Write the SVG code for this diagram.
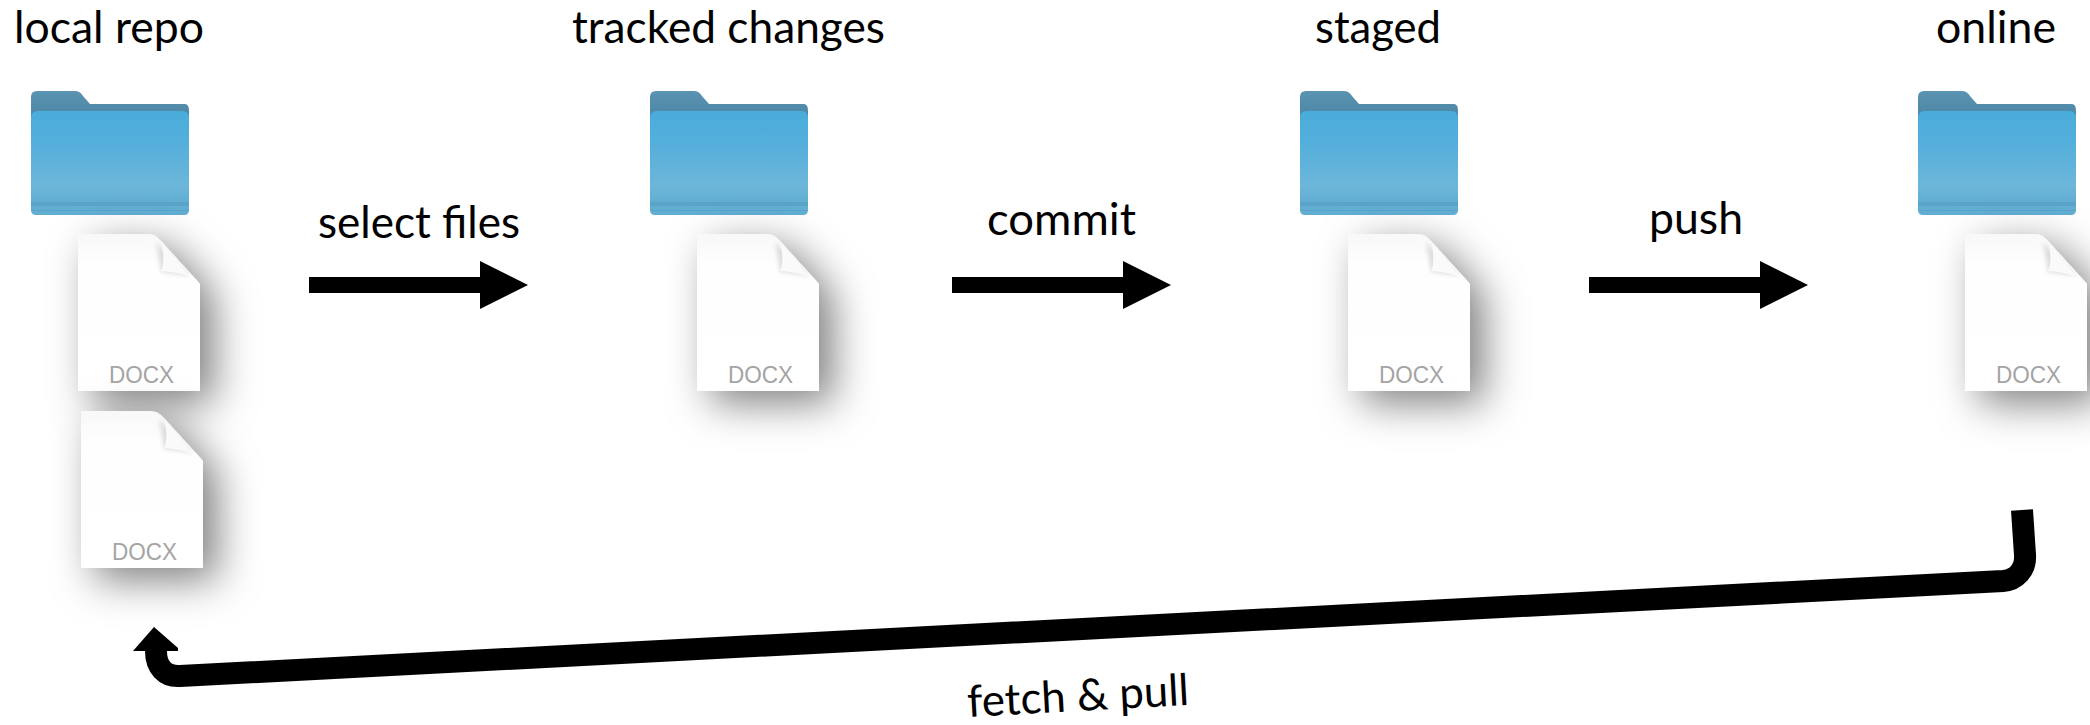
<svg xmlns="http://www.w3.org/2000/svg" xmlns:xlink="http://www.w3.org/1999/xlink" width="2090" height="725" viewBox="0 0 2090 725">
<style>
text{font-family:"Lato","Open Sans","Liberation Sans",sans-serif;font-size:44px;fill:#000}
.docx{font-family:"Liberation Sans",Arial,sans-serif;font-size:23px;fill:#a4a4a4}
.cn{fill:none;stroke:#000;stroke-width:22}
</style>
<defs>
<linearGradient id="fb" x1="0" y1="0" x2="0" y2="1"><stop offset="0" stop-color="#5b93b2"/><stop offset="1" stop-color="#457f9f"/></linearGradient>
<linearGradient id="ff" x1="0" y1="0" x2="0" y2="1"><stop offset="0" stop-color="#49acdb"/><stop offset=".35" stop-color="#56afdb"/><stop offset=".72" stop-color="#6db6da"/><stop offset=".87" stop-color="#62aed3"/><stop offset="1" stop-color="#62aed3"/></linearGradient>
<linearGradient id="dg" x1="0" y1="0" x2="0" y2="1"><stop offset="0" stop-color="#f8f8f8"/><stop offset=".2" stop-color="#fefefe"/><stop offset="1" stop-color="#fff"/></linearGradient>
<filter id="sh" x="-80%" y="-60%" width="280%" height="240%"><feDropShadow dx="14" dy="12" stdDeviation="20" flood-color="#000" flood-opacity=".5"/></filter>
<filter id="fs" x="-40%" y="-40%" width="180%" height="180%"><feGaussianBlur stdDeviation="2"/></filter>
<g id="folder">
<path d="M0 6Q0 0 6 0H44Q49 0 52 5L59 13H154Q158 13 158 20V40H0Z" fill="url(#fb)"/>
<path d="M0 27Q0 20 7 20H151Q158 20 158 27V119Q158 124 153 124H5Q0 124 0 119Z" fill="url(#ff)"/>
<path d="M0 111H158V115H0ZM0 119H158V120H0Z" fill="#5199bf" opacity=".5"/>
</g>
<g id="doc">
<path d="M0 0H70Q76 0 82 6L122 50V157H0Z" fill="url(#dg)" filter="url(#sh)"/>
<path d="M78 8Q82 30 83 38L112 42Z" fill="#ddd" filter="url(#fs)"/>
<path d="M84 9Q87 30 83 37Q100 38 112 43Z" fill="#fafafa"/>
<text class="docx" x="31" y="149" textLength="65" lengthAdjust="spacingAndGlyphs">DOCX</text>
</g>
</defs>
<rect width="2090" height="725" fill="#fff"/>
<g id="node-local-repo">
<text x="14" y="43" textLength="190" lengthAdjust="spacingAndGlyphs">local repo</text>
<use xlink:href="#folder" href="#folder" x="31" y="91"/>
<use xlink:href="#doc" href="#doc" x="78" y="234"/>
<use xlink:href="#doc" href="#doc" x="81" y="411"/>
</g>
<g id="node-tracked-changes">
<text x="572" y="43" textLength="313" lengthAdjust="spacingAndGlyphs">tracked changes</text>
<use xlink:href="#folder" href="#folder" x="650" y="91"/>
<use xlink:href="#doc" href="#doc" x="697" y="234"/>
</g>
<g id="node-staged">
<text x="1315" y="43" textLength="126" lengthAdjust="spacingAndGlyphs">staged</text>
<use xlink:href="#folder" href="#folder" x="1300" y="91"/>
<use xlink:href="#doc" href="#doc" x="1348" y="234"/>
</g>
<g id="node-online">
<text x="1936" y="43" textLength="120" lengthAdjust="spacingAndGlyphs">online</text>
<use xlink:href="#folder" href="#folder" x="1918" y="91"/>
<use xlink:href="#doc" href="#doc" x="1965" y="234"/>
</g>
<g id="connectors">
<path d="M309 277H480V261L528 285L480 309V293H309Z"/>
<path d="M952 277H1123V261L1171 285L1123 309V293H952Z"/>
<path d="M1589 277H1760V261L1808 285L1760 309V293H1589Z"/>
<path class="cn" d="M2022 510L2025 555C2026 570 2016 580 2003 581L180 676C165 677 156 667 156 651"/>
<path d="M133 651L154 627L178 648V651Z"/>
<text x="318" y="238" textLength="202" lengthAdjust="spacingAndGlyphs">select files</text>
<text x="987" y="235" textLength="149" lengthAdjust="spacingAndGlyphs">commit</text>
<text x="1649" y="234" textLength="94" lengthAdjust="spacingAndGlyphs">push</text>
<text transform="translate(968 717) rotate(-3.1)" textLength="222" lengthAdjust="spacingAndGlyphs">fetch &amp; pull</text>
</g>
</svg>
